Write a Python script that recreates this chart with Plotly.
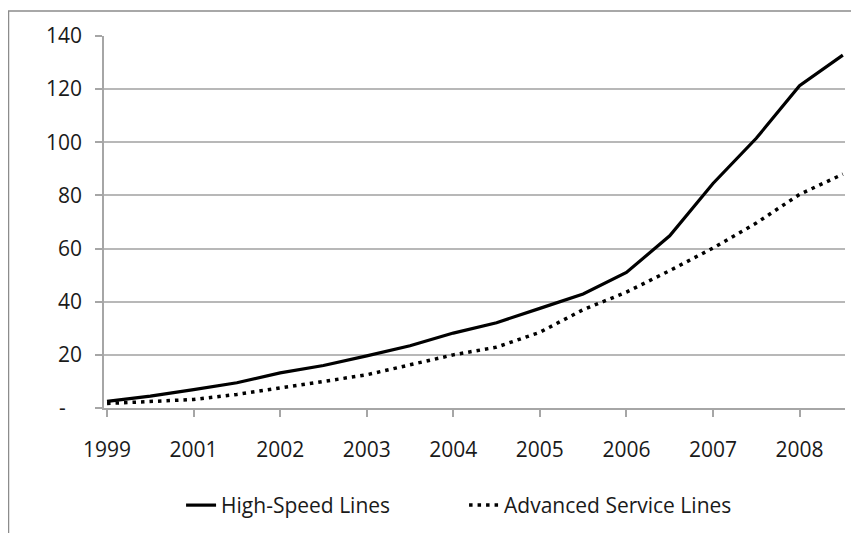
import plotly.graph_objects as go

# Half-year observation periods (Dec 1999 .. Jun 2008)
periods = ["Dec 1999", "Jun 2000", "Dec 2000", "Jun 2001", "Dec 2001", "Jun 2002",
           "Dec 2002", "Jun 2003", "Dec 2003", "Jun 2004", "Dec 2004", "Jun 2005",
           "Dec 2005", "Jun 2006", "Dec 2006", "Jun 2007", "Dec 2007", "Jun 2008"]

high_speed_lines = [2.5, 4.5, 6.9, 9.5, 13.2, 16.0, 19.6, 23.4, 28.2, 32.1,
                    37.5, 42.9, 51.0, 64.8, 84.5, 101.5, 121.3, 132.8]
advanced_service_lines = [1.7, 2.3, 3.2, 5.1, 7.4, 10.0, 12.5, 16.2, 20.0, 22.9,
                          28.5, 37.0, 43.6, 51.7, 60.2, 69.6, 80.4, 88.0]

x_tick_positions = [0, 2, 4, 6, 8, 10, 12, 14, 16]
x_tick_labels = ["1999", "2001", "2002", "2003", "2004", "2005", "2006", "2007", "2008"]
y_tick_values = [0, 20, 40, 60, 80, 100, 120, 140]
y_tick_labels = ["-\u00a0\u00a0\u00a0", "20", "40", "60", "80", "100", "120", "140"]

x_idx = list(range(len(periods)))
FONT = "Open Sans"
TXT = "#1a1a1a"

fig = go.Figure()
fig.add_trace(go.Scatter(
    x=x_idx, y=high_speed_lines, mode="lines", name="High-Speed Lines",
    customdata=periods, hovertemplate="%{customdata}: %{y}<extra></extra>",
    line=dict(color="black", width=3.2)))
fig.add_trace(go.Scatter(
    x=x_idx, y=advanced_service_lines, mode="lines", name="Advanced Service Lines",
    customdata=periods, hovertemplate="%{customdata}: %{y}<extra></extra>",
    line=dict(color="black", width=3.5, dash="3.5px,5px")))

# page body has an 8px margin, so the figure is sized to fit the window
fig.update_layout(
    width=851, height=525,
    margin=dict(l=96, r=14, t=28, b=125, autoexpand=False),
    paper_bgcolor="white", plot_bgcolor="white",
    font=dict(family=FONT, size=21, color=TXT),
    showlegend=True,
    legend=dict(orientation="h", x=0.104, xanchor="left", y=-0.262, yanchor="middle",
                font=dict(family=FONT, size=21, color=TXT),
                bgcolor="rgba(0,0,0,0)", entrywidth=238, entrywidthmode="pixels"),
    xaxis=dict(range=[-0.07, 17.05], tickmode="array", tickvals=x_tick_positions,
               ticktext=x_tick_labels, showgrid=False, zeroline=False,
               showline=True, linecolor="#a6a6a6", linewidth=1.5,
               ticks="outside", ticklen=7, tickcolor="#a6a6a6", tickwidth=1.5,
               ticklabelstandoff=15, automargin=False, fixedrange=True),
    yaxis=dict(range=[0, 140], tickmode="array", tickvals=y_tick_values,
               ticktext=y_tick_labels, showgrid=True, gridcolor="#b8b8b8",
               gridwidth=1.5, zeroline=False, showline=True, linecolor="#a6a6a6",
               linewidth=1.5, ticks="outside", ticklen=7, tickcolor="#a6a6a6",
               tickwidth=1.5, ticklabelstandoff=9, automargin=False, fixedrange=True),
    shapes=[dict(type="rect", xref="paper", yref="paper",
                 x0=(8.5 - 104) / 741, x1=(900 - 104) / 741,
                 y0=(407.7 - 600) / 371.7, y1=(407.7 - 11) / 371.7,
                 line=dict(color="#8c8c8c", width=1.5), fillcolor="rgba(0,0,0,0)",
                 layer="below")],
)

fig.write_html("out.html")
